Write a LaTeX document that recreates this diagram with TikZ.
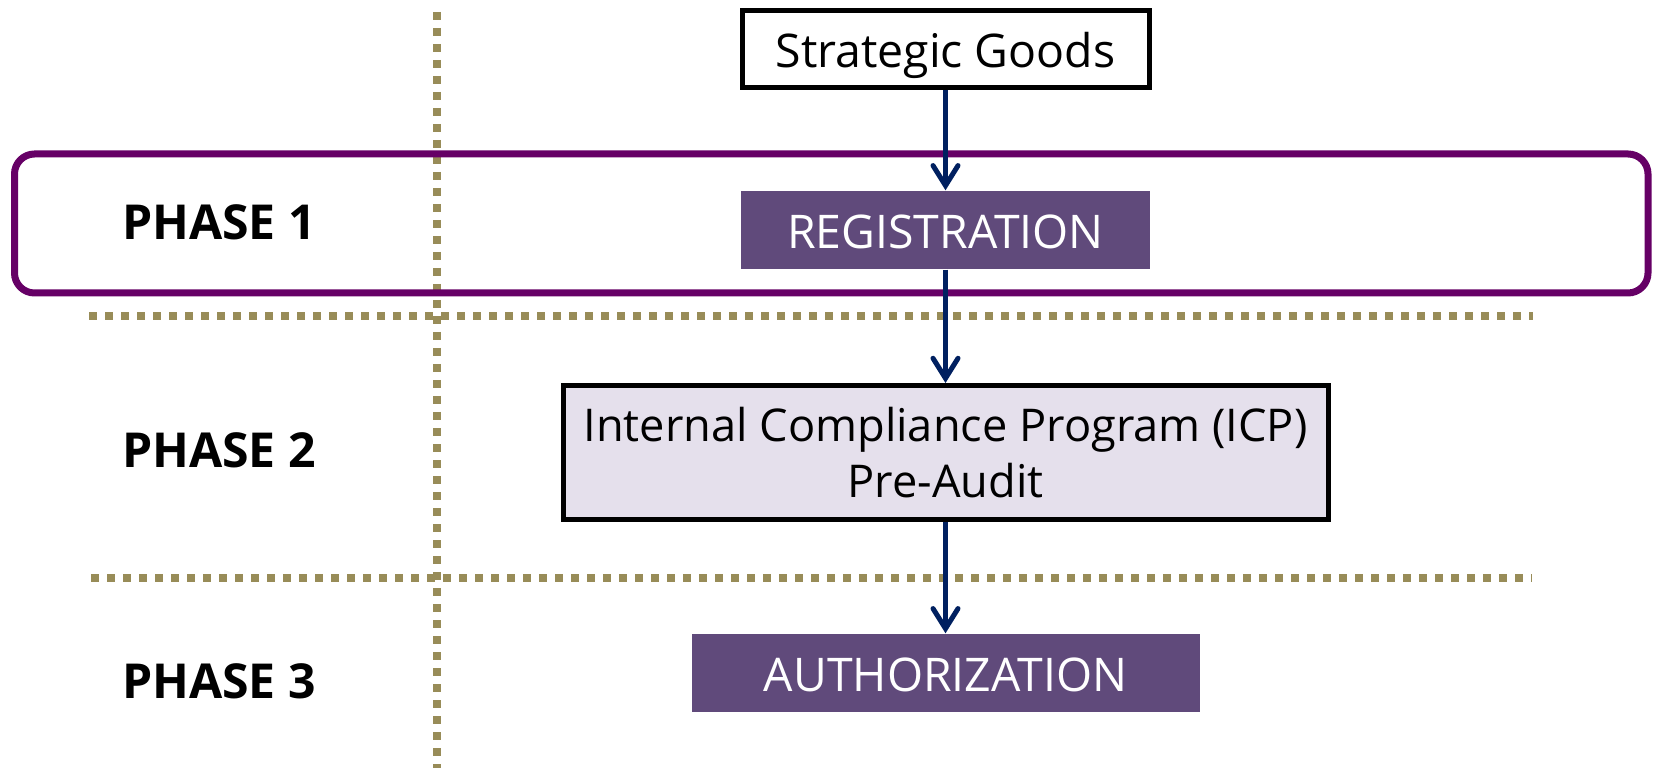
\documentclass[tikz,border=0pt]{standalone}
\usepackage{fontspec}
\setmainfont{Open Sans}
\usetikzlibrary{arrows.meta}
\definecolor{phasepurple}{RGB}{102, 0, 102}
\definecolor{stagepurple}{RGB}{96, 74, 123}
\definecolor{icplilac}{RGB}{229, 224, 236}
\definecolor{flownavy}{RGB}{0, 32, 96}
\definecolor{gridolive}{RGB}{152, 140, 88}

\begin{document}
\begin{tikzpicture}[
  boxtext/.style={font=\fontsize{13.2}{15.9}\selectfont, inner sep=0pt, align=center},
  oneline/.style={boxtext, text height=0.37cm, text depth=0cm},
  stage/.style={oneline, fill=stagepurple, text=white, minimum height=0.78cm},
  phase/.style={font=\fontsize{13.7}{16}\selectfont\bfseries, inner sep=0pt},
  gridline/.style={gridolive, line width=0.08cm, dash pattern=on 0.08cm off 0.08cm},
  flow/.style={-{Straight Barb[length=0.2cm, width=0.25cm, line cap=round]}, flownavy, line width=0.05cm}
]
\useasboundingbox (0,0) rectangle (16.54,7.68);
% dotted phase grid
\draw[gridline] (4.37,7.56) -- (4.37,0);
\draw[gridline] (0.89,4.52) -- (15.33,4.52);
\draw[gridline] (0.91,1.90) -- (15.32,1.90);
% phase 1 frame
\draw[phasepurple, line width=0.07cm, rounded corners=0.2cm] (0.145,4.75) rectangle (16.48,6.14);

\node[phase] (p1) at (2.19,5.46) {PHASE 1};
\node[phase] (p2) at (2.19,3.18) {PHASE 2};
\node[phase] (p3) at (2.19,0.87) {PHASE 3};

\node[oneline, draw, line width=0.05cm, minimum width=4.07cm, minimum height=0.77cm] (goods) at (9.455,7.19) {Strategic Goods};
\node[stage, minimum width=4.09cm] (reg) at (9.455,5.38) {REGISTRATION};
\node[boxtext, font=\fontsize{12.85}{15.9}\selectfont, draw, fill=icplilac, line width=0.05cm, minimum width=7.65cm, minimum height=1.34cm, text depth=0cm] (icp) at (9.455,3.155) {Internal Compliance Program (ICP)\\Pre-Audit};
\node[stage, minimum width=5.08cm] (auth) at (9.455,0.95) {AUTHORIZATION};

\draw[flow] (goods) -- (reg);
\draw[flow] (reg) -- (icp);
\draw[flow] (icp) -- (auth);
\end{tikzpicture}
\end{document}
